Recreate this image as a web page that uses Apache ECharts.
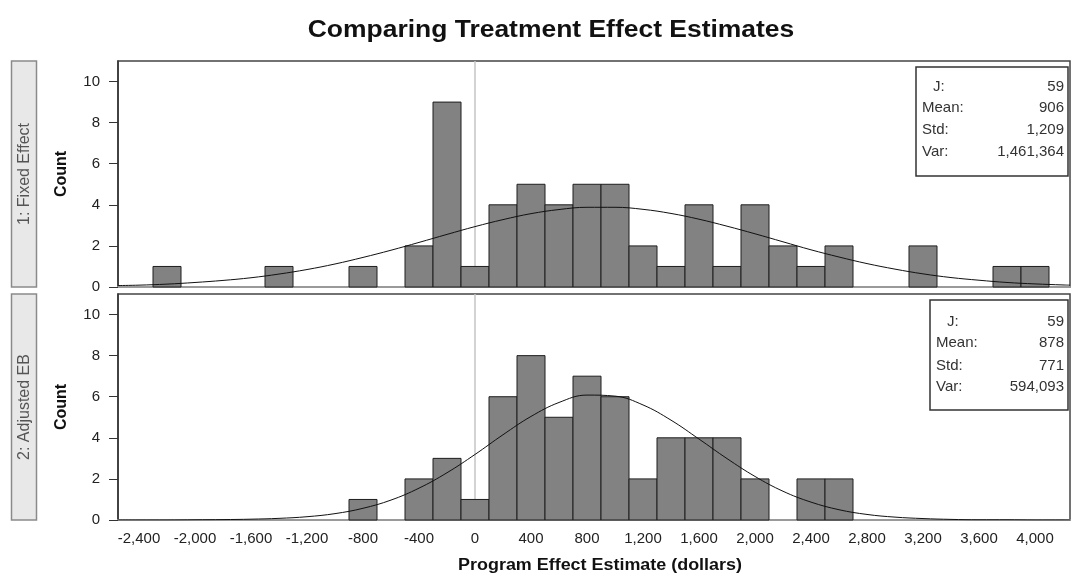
<!DOCTYPE html>
<html>
<head>
<meta charset="utf-8">
<script src="https://cdn.jsdelivr.net/npm/echarts@6/dist/echarts.min.js"></script>
<style>
html,body{margin:0;padding:0;background:#fff;}
#chart{width:1074px;height:577px;}
</style>
</head>
<body>
<div id="chart"></div>
<script>
// ---- data ----
const BIN_WIDTH = 200;
const binCenters = [-2200,-2000,-1800,-1600,-1400,-1200,-1000,-800,-600,-400,-200,0,200,400,600,800,1000,1200,1400,1600,1800,2000,2200,2400,2600,2800,3000,3200,3400,3600,3800,4000];
const fixedCounts = [1,0,0,0,1,0,0,1,0,2,9,1,4,5,4,5,5,2,1,4,1,4,2,1,2,0,0,2,0,0,1,1];
const ebCounts    = [0,0,0,0,0,0,0,1,0,2,3,1,6,8,5,7,6,2,4,4,4,2,0,2,2,0,0,0,0,0,0,0];

const curveX = [-2550,-2400,-2200,-2000,-1800,-1600,-1400,-1200,-1000,-800,-600,-400,-200,0,200,400,600,800,1000,1200,1400,1600,1800,2000,2200,2400,2600,2800,3000,3200,3400,3600,3800,4000,4200,4250];
const fixedCurve = [0.07,0.09,0.14,0.22,0.32,0.45,0.63,0.85,1.12,1.44,1.79,2.17,2.56,2.94,3.28,3.57,3.77,3.88,3.88,3.78,3.58,3.30,2.96,2.59,2.20,1.81,1.46,1.14,0.87,0.64,0.46,0.33,0.22,0.15,0.10,0.09];
const ebCurve    = [0.00,0.00,0.00,0.01,0.02,0.04,0.08,0.16,0.31,0.57,0.97,1.55,2.30,3.19,4.15,5.04,5.72,6.08,6.03,5.60,4.86,3.94,2.99,2.12,1.40,0.87,0.50,0.27,0.14,0.07,0.03,0.01,0.01,0.00,0.00,0.00];

const xTicks = [-2400,-2000,-1600,-1200,-800,-400,0,400,800,1200,1600,2000,2400,2800,3200,3600,4000];
const yTicks = [0,2,4,6,8,10];

const panelNames = ['1: Fixed Effect','2: Adjusted EB'];
const statLabels = ['J:','Mean:','Std:','Var:'];
const fixedStats = ['59','906','1,209','1,461,364'];
const ebStats    = ['59','878','771','594,093'];

// ---- layout ----
const X_MIN = -2550, X_MAX = 4250, Y_MAX = 11;
const grids = [
  {left:118, top:61, width:952, height:226},
  {left:118, top:294, width:952, height:226}
];
const FONT = '"Liberation Sans", Arial, sans-serif';

function fmt(v){ return Number(v).toLocaleString('en-US'); }

function xAxisOf(i, showLabels){
  return {
    type:'value', gridIndex:i, min:X_MIN, max:X_MAX,
    axisLine:{show:true, onZero:false, lineStyle:{color:'#9a9a9a', width:2}},
    axisTick:{show:false},
    splitLine:{show:false},
    axisLabel:{show:showLabels, customValues:xTicks, formatter:fmt, color:'#222', fontSize:15, fontFamily:FONT, margin:11}
  };
}
function yAxisOf(i){
  return {
    type:'value', gridIndex:i, min:0, max:Y_MAX, position:'left',
    axisLine:{show:true, onZero:false, lineStyle:{color:'#333', width:1.5}},
    axisTick:{show:true, length:9, customValues:yTicks, lineStyle:{color:'#333', width:1}},
    axisLabel:{customValues:yTicks, color:'#222', fontSize:15, fontFamily:FONT, margin:18},
    splitLine:{show:false}
  };
}

function barSeries(i, counts){
  return {
    type:'custom', xAxisIndex:i, yAxisIndex:i, z:3,
    data: binCenters.map((c,k)=>[c, counts[k]]),
    encode:{x:0, y:1},
    renderItem:function(params, api){
      const c = api.value(0), n = api.value(1);
      if(!n) return null;
      const p0 = api.coord([c - BIN_WIDTH/2, n]);
      const p1 = api.coord([c + BIN_WIDTH/2, 0]);
      return {type:'rect', shape:{x:p0[0], y:p0[1], width:p1[0]-p0[0], height:p1[1]-p0[1]},
        style:{fill:'#828282', stroke:'#1e1e1e', lineWidth:1}};
    }
  };
}
function curveSeries(i, vals){
  return {
    type:'line', xAxisIndex:i, yAxisIndex:i, z:4, smooth:0.4, showSymbol:false, silent:true,
    data: curveX.map((x,k)=>[x, vals[k]]),
    lineStyle:{color:'#111', width:1}
  };
}
function zeroLine(i){
  return {
    type:'line', xAxisIndex:i, yAxisIndex:i, z:1, showSymbol:false, silent:true,
    data:[[0,0],[0,Y_MAX]],
    lineStyle:{color:'#c4c4c4', width:1.5}
  };
}

function statBox(x, y, w, h, rowYs, values){
  const children = [{type:'rect', shape:{x:x, y:y, width:w, height:h}, style:{fill:'#fff', stroke:'#333', lineWidth:1.5}}];
  statLabels.forEach((lab,k)=>{
    children.push({type:'text', x: x + 6 + (k===0 ? 11 : 0), y: rowYs[k],
      style:{text:lab, fill:'#333', font:'15px '+FONT, textVerticalAlign:'middle', textAlign:'left'}});
    children.push({type:'text', x: x + w - 4, y: rowYs[k],
      style:{text:values[k], fill:'#333', font:'15px '+FONT, textVerticalAlign:'middle', textAlign:'right'}});
  });
  return {type:'group', z:10, children:children};
}

function strip(i){
  const g = grids[i];
  return {type:'group', children:[
    {type:'rect', shape:{x:11.5, y:g.top, width:25, height:g.height}, style:{fill:'#e8e8e8', stroke:'#8a8a8a', lineWidth:1.5}},
    {type:'text', x:24.5, y:g.top + g.height/2, rotation:Math.PI/2,
      style:{text:panelNames[i], fill:'#555', font:'16px '+FONT, textAlign:'center', textVerticalAlign:'middle'}},
    {type:'text', x:62, y:g.top + g.height/2, rotation:Math.PI/2,
      style:{text:'Count', fill:'#111', font:'bold 16px '+FONT, textAlign:'center', textVerticalAlign:'middle'}}
  ]};
}

const chart = echarts.init(document.getElementById('chart'), null, {renderer:'canvas'});
chart.setOption({
  backgroundColor:'#fff',
  animation:false,
  grid: grids.map(g=>Object.assign({show:true, borderColor:'#444', borderWidth:1.5, backgroundColor:'#fff'}, g)),
  xAxis:[xAxisOf(0,false), xAxisOf(1,true)],
  yAxis:[yAxisOf(0), yAxisOf(1)],
  series:[
    zeroLine(0), barSeries(0, fixedCounts), curveSeries(0, fixedCurve),
    zeroLine(1), barSeries(1, ebCounts), curveSeries(1, ebCurve)
  ],
  graphic:[
    {type:'text', x:551, y:31, scaleX:1.15, z:10,
      style:{text:'Comparing Treatment Effect Estimates', fill:'#111', font:'bold 23px '+FONT, textAlign:'center', textVerticalAlign:'middle'}},
    {type:'text', x:600, y:566, scaleX:1.12, z:10,
      style:{text:'Program Effect Estimate (dollars)', fill:'#111', font:'bold 16px '+FONT, textAlign:'center', textVerticalAlign:'middle'}},
    strip(0), strip(1),
    statBox(916, 67, 152, 109, [87,108,130,152], fixedStats),
    statBox(930, 300, 138, 110, [322,343,366,387], ebStats)
  ]
});
</script>
</body>
</html>
